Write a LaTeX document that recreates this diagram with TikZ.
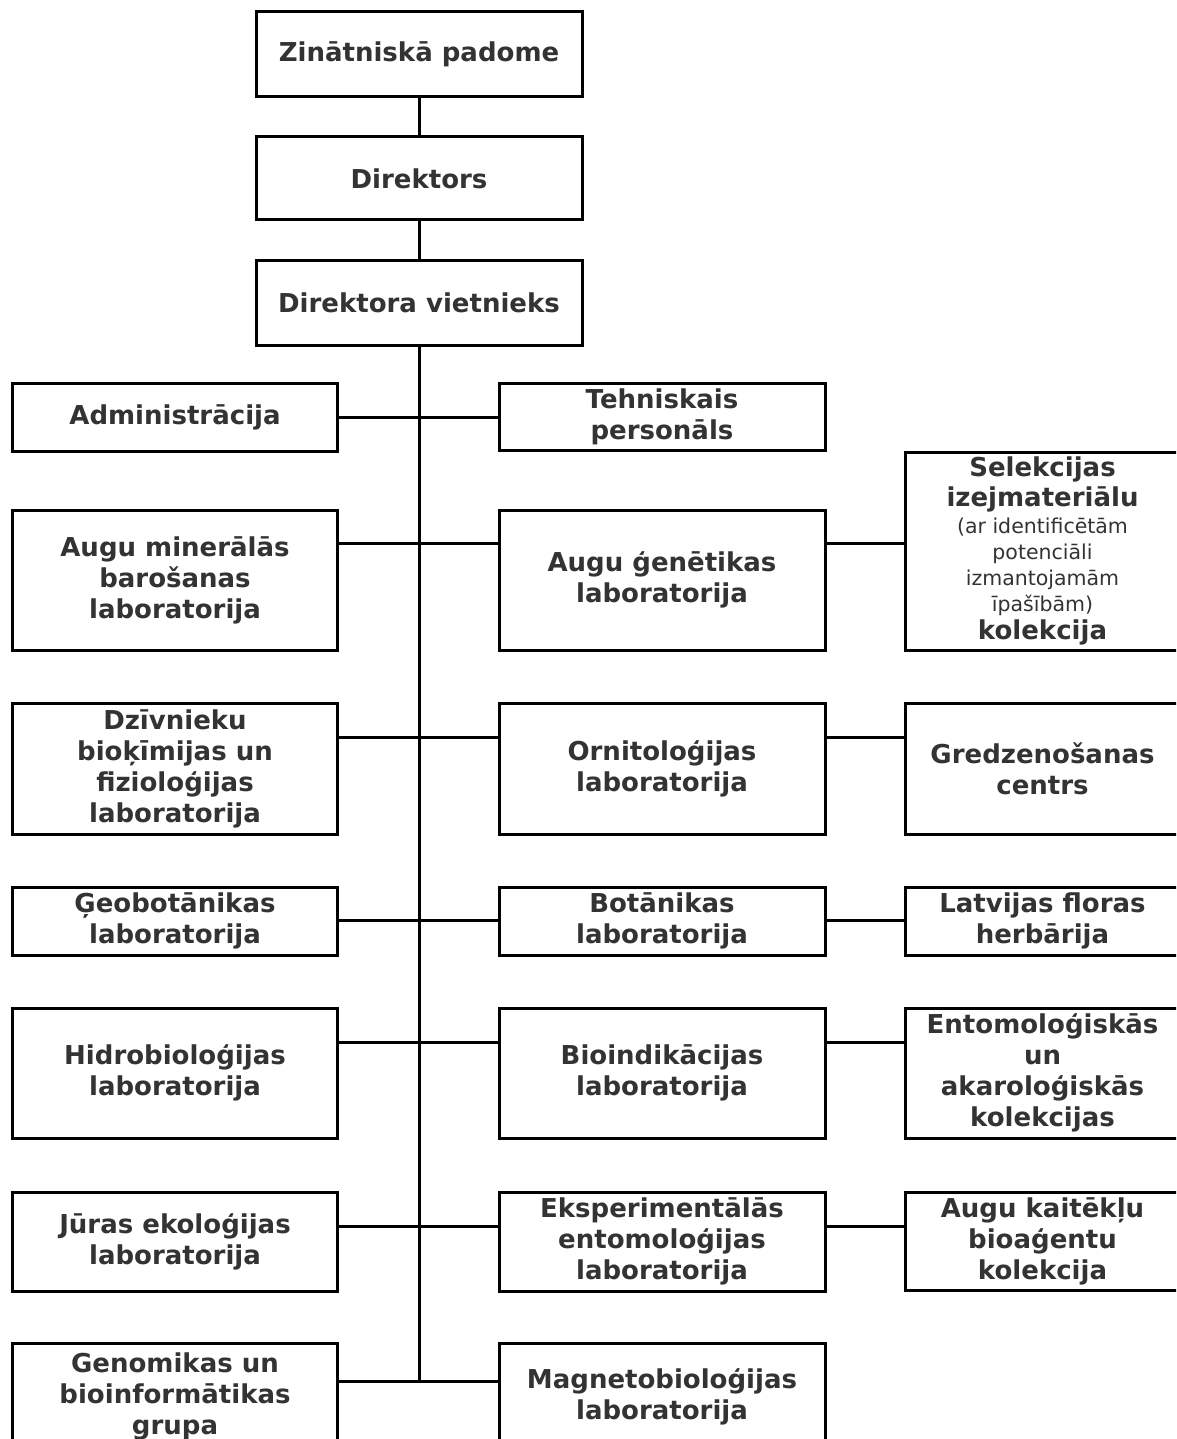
\documentclass[tikz,border=0pt]{standalone}
\usepackage{fontspec}
\setmainfont{DejaVu Sans}
\definecolor{textc}{RGB}{51,51,51}
\newcommand\orgbig{\fontsize{26}{31}\selectfont\bfseries}
\newcommand\orgsmall{\fontsize{20.5}{26}\selectfont\mdseries}
\tikzset{
  box/.style={draw, line width=3pt, inner sep=0pt, align=center, text=textc, font=\orgbig, fill=white},
  lcol/.style={box, minimum width=325pt},
  mcol/.style={box, minimum width=326pt},
  rcol/.style={box, minimum width=275pt},
  topcol/.style={box, minimum width=326pt},
  conn/.style={draw, line width=3pt}
}
\begin{document}
\begin{tikzpicture}[x=1pt,y=-1pt]
\useasboundingbox (0,0) rectangle (1176,1439);
\clip (0,0) rectangle (1176,1439);
\fill[white] (0,0) rectangle (1176,1439);

% connector coordinates
\coordinate (r1) at (419,417);
\coordinate (r2) at (419,543);
\coordinate (r3) at (419,737);
\coordinate (r4) at (419,920);
\coordinate (r5) at (419,1042);
\coordinate (r6) at (419,1226);
\coordinate (trunkend) at (419,1381);

% top chain
\node[topcol, minimum height=85pt] (zp) at (419,54.5) {Zinātniskā padome};
\node[topcol, minimum height=83pt] (dir) at (419,178.5) {Direktors};
\node[topcol, minimum height=85pt] (dv) at (419,302.5) {Direktora vietnieks};

% row 1
\node[lcol, minimum height=68pt] (adm) at (175,417) {Administrācija};
\node[mcol, minimum height=67pt] (teh) at (662,416.5) {Tehniskais\\personāls};
% row 2
\node[lcol, minimum height=140pt] (amb) at (175,580) {Augu minerālās\\barošanas\\laboratorija};
\node[mcol, minimum height=140pt] (ag) at (662,580) {Augu ģenētikas\\laboratorija};
\node[rcol, minimum height=198pt] (sel) at (1042.5,551) {Selekcijas\\[-1pt]izejmateriālu\\[-4pt]{\orgsmall (ar identificētām}\\[-5pt]{\orgsmall potenciāli}\\[-5pt]{\orgsmall izmantojamām}\\[-5pt]{\orgsmall īpašībām)}\\[-3pt]kolekcija};
% row 3
\node[lcol, minimum height=131pt] (dz) at (175,768.5) {Dzīvnieku\\bioķīmijas un\\fizioloģijas\\laboratorija};
\node[mcol, minimum height=131pt] (orn) at (662,768.5) {Ornitoloģijas\\laboratorija};
\node[rcol, minimum height=131pt] (gre) at (1042.5,768.5) {Gredzenošanas\\centrs};
% row 4
\node[lcol, minimum height=68pt] (geo) at (175,921) {Ģeobotānikas\\laboratorija};
\node[mcol, minimum height=68pt] (bot) at (662,921) {Botānikas\\laboratorija};
\node[rcol, minimum height=68pt] (lfh) at (1042.5,921) {Latvijas floras\\herbārija};
% row 5
\node[lcol, minimum height=130pt] (hid) at (175,1073) {Hidrobioloģijas\\laboratorija};
\node[mcol, minimum height=130pt] (bio) at (662,1073) {Bioindikācijas\\laboratorija};
\node[rcol, minimum height=130pt] (ent) at (1042.5,1073) {Entomoloģiskās\\un\\akaroloģiskās\\kolekcijas};
% row 6
\node[lcol, minimum height=99pt] (jur) at (175,1241.5) {Jūras ekoloģijas\\laboratorija};
\node[mcol, minimum height=99pt] (eks) at (662,1241.5) {Eksperimentālās\\entomoloģijas\\laboratorija};
\node[rcol, minimum height=98pt] (akk) at (1042.5,1241) {Augu kaitēkļu\\bioaģentu\\kolekcija};
% row 7
\node[lcol, minimum height=107pt] (gen) at (175,1396.5) {Genomikas un\\bioinformātikas\\grupa};
\node[mcol, minimum height=107pt] (mag) at (662,1396.5) {Magnetobioloģijas\\laboratorija};

% connectors
\draw[conn] (zp) -- (dir);
\draw[conn] (dir) -- (dv);
\draw[conn] (dv.south) -- (trunkend);
\draw[conn] (adm.east |- r1) -- (teh.west |- r1);
\draw[conn] (amb.east |- r2) -- (ag.west |- r2);
\draw[conn] (ag.east |- r2) -- (sel.west |- r2);
\draw[conn] (dz.east |- r3) -- (orn.west |- r3);
\draw[conn] (orn.east |- r3) -- (gre.west |- r3);
\draw[conn] (geo.east |- r4) -- (bot.west |- r4);
\draw[conn] (bot.east |- r4) -- (lfh.west |- r4);
\draw[conn] (hid.east |- r5) -- (bio.west |- r5);
\draw[conn] (bio.east |- r5) -- (ent.west |- r5);
\draw[conn] (jur.east |- r6) -- (eks.west |- r6);
\draw[conn] (eks.east |- r6) -- (akk.west |- r6);
\draw[conn] (gen.east |- trunkend) -- (mag.west |- trunkend);
\end{tikzpicture}
\end{document}
